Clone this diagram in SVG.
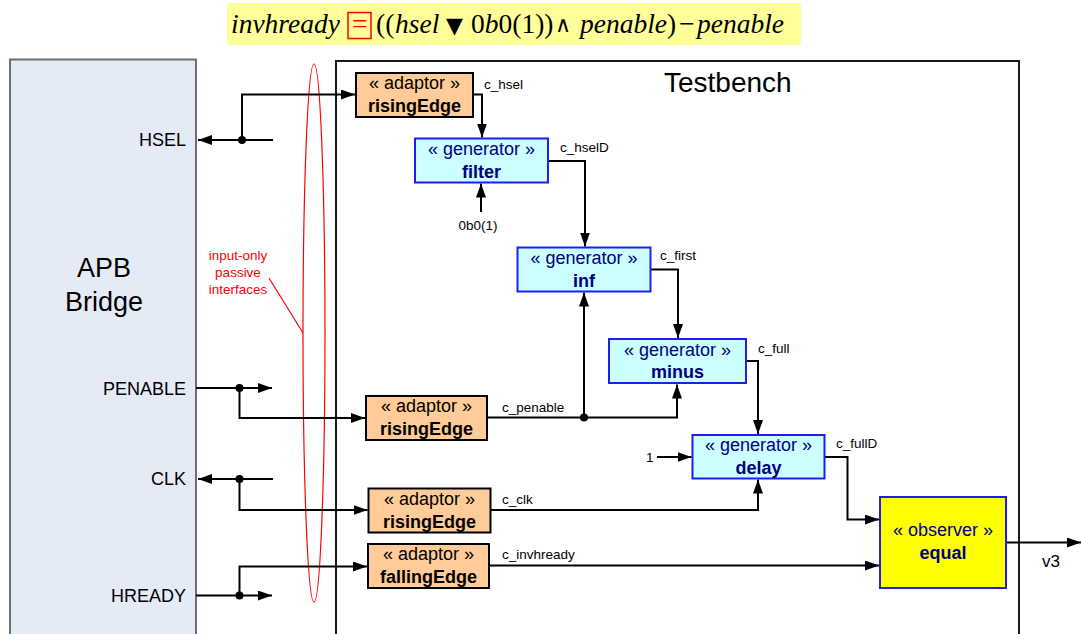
<svg xmlns="http://www.w3.org/2000/svg" width="1081" height="634" viewBox="0 0 1081 634">
<defs>
<style>
.sans{font-family:"Liberation Sans",Arial,sans-serif}
.sig{font-family:"Liberation Sans",Arial,sans-serif;font-size:18px;fill:#000;text-anchor:end}
.lbl{font-family:"Liberation Sans",Arial,sans-serif;font-size:13.5px;fill:#000}
.ad{fill:#FFCC99;stroke:#000;stroke-width:2}
.gen{fill:#CCFFFF;stroke:#1E1EF0;stroke-width:2}
.obs{fill:#FFFF00;stroke:#1E1EF0;stroke-width:2}
.st{font-family:"Liberation Sans",Arial,sans-serif;font-size:18px;text-anchor:middle}
.nm{font-family:"Liberation Sans",Arial,sans-serif;font-size:18px;font-weight:bold;text-anchor:middle}
.blk{fill:#000}
.nav{fill:#000080}
.wire{fill:none;stroke:#000;stroke-width:2}
.math{font-family:"Liberation Serif","Times New Roman",serif;font-size:27.5px;fill:#000}
.it{font-style:italic}
</style>
<marker id="arr" markerUnits="userSpaceOnUse" markerWidth="14" markerHeight="10" refX="14" refY="5" orient="auto">
<path d="M0,0 L14,5 L0,10 z" fill="#000"/>
</marker>
</defs>
<rect width="1081" height="634" fill="#fff"/>

<g id="formula">
<rect x="227" y="3" width="574" height="42" fill="#FFFF99"/>
<rect x="348" y="12.5" width="23" height="26" fill="none" stroke="#FF0000" stroke-width="1.5"/>
<text class="math" y="33"><tspan x="231" class="it">invhready</tspan><tspan x="352" fill="#FF0000">=</tspan><tspan x="376">((</tspan><tspan x="395" class="it">hsel</tspan><tspan x="446" font-family="DejaVu Sans,sans-serif" font-size="22">▼</tspan><tspan x="471">0</tspan><tspan class="it">b</tspan><tspan>0(1))</tspan><tspan x="555" font-family="DejaVu Serif,serif" font-size="22" y="32">∧</tspan><tspan x="580" y="33" class="it">penable</tspan><tspan>)</tspan><tspan x="679">−</tspan><tspan x="697" class="it">penable</tspan></text>
</g>

<g id="apb-bridge">
<rect x="10" y="59.5" width="186" height="600" fill="#E5EBF6" stroke="#6E6E6E" stroke-width="2"/>
<text class="sans" x="104" y="277" font-size="27" text-anchor="middle">APB</text>
<text class="sans" x="104" y="311" font-size="27" text-anchor="middle">Bridge</text>
<text class="sig" x="186" y="146">HSEL</text>
<text class="sig" x="186" y="395">PENABLE</text>
<text class="sig" x="186" y="485">CLK</text>
<text class="sig" x="186" y="602">HREADY</text>
</g>

<g id="testbench">
<path d="M336,640 V61 H1019 V640" fill="none" stroke="#1A1A1A" stroke-width="2"/>
<text class="sans" x="664" y="92" font-size="28">Testbench</text>
</g>

<g id="passive-note">
<ellipse cx="314" cy="333" rx="11" ry="269" fill="none" stroke="#FF0000" stroke-width="1.2"/>
<line x1="269" y1="278" x2="303" y2="333" stroke="#FF0000" stroke-width="1.2"/>
<g class="sans" font-size="13.5" fill="#FF0000" text-anchor="middle">
<text x="238" y="260">input-only</text>
<text x="238" y="277">passive</text>
<text x="238" y="294">interfaces</text>
</g>
</g>

<g id="connectors">
<path class="wire" d="M273,140 H198" marker-end="url(#arr)"/>
<path class="wire" d="M242,140 V94.5 H355" marker-end="url(#arr)"/>
<path class="wire" d="M473,94.5 H482 V137.5" marker-end="url(#arr)"/>
<path class="wire" d="M481,212 V183.5" marker-end="url(#arr)"/>
<path class="wire" d="M548,161 H585 V246.5" marker-end="url(#arr)"/>
<path class="wire" d="M651,269.5 H678 V338" marker-end="url(#arr)"/>
<path class="wire" d="M746,361 H758 V434" marker-end="url(#arr)"/>
<path class="wire" d="M487,417.5 H677 V384.5" marker-end="url(#arr)"/>
<path class="wire" d="M584,417.5 V292.5" marker-end="url(#arr)"/>
<path class="wire" d="M196,388 H272" marker-end="url(#arr)"/>
<path class="wire" d="M239.5,388 V418 H365" marker-end="url(#arr)"/>
<path class="wire" d="M273,479 H198" marker-end="url(#arr)"/>
<path class="wire" d="M239.5,479 V510 H367.5" marker-end="url(#arr)"/>
<path class="wire" d="M491,510 H758 V479.5" marker-end="url(#arr)"/>
<path class="wire" d="M196,595.5 H272" marker-end="url(#arr)"/>
<path class="wire" d="M239.5,595.5 V566.5 H367" marker-end="url(#arr)"/>
<path class="wire" d="M489,565.5 H879" marker-end="url(#arr)"/>
<path class="wire" d="M657,457 H691.5" marker-end="url(#arr)"/>
<path class="wire" d="M824.5,457 H847.5 V519.5 H879" marker-end="url(#arr)"/>
<path class="wire" d="M1006,542.5 H1081" marker-end="url(#arr)"/>
<circle class="blk" cx="242" cy="140" r="4"/>
<circle class="blk" cx="239.5" cy="388" r="4"/>
<circle class="blk" cx="239.5" cy="479" r="4"/>
<circle class="blk" cx="239.5" cy="595.5" r="4"/>
<circle class="blk" cx="584" cy="417.5" r="4"/>
<text class="lbl" x="484" y="89">c_hsel</text>
<text class="lbl" x="560" y="152">c_hselD</text>
<text class="lbl" x="478" y="230" text-anchor="middle">0b0(1)</text>
<text class="lbl" x="660" y="260">c_first</text>
<text class="lbl" x="758" y="353">c_full</text>
<text class="lbl" x="502" y="411.5">c_penable</text>
<text class="lbl" x="646" y="462">1</text>
<text class="lbl" x="836" y="448">c_fullD</text>
<text class="lbl" x="502" y="504">c_clk</text>
<text class="lbl" x="502" y="558.5">c_invhready</text>
<text class="sans" x="1042" y="567" font-size="17">v3</text>
</g>

<g id="adaptor-hsel">
<rect class="ad" x="356" y="73" width="117" height="44"/>
<text class="st blk" x="414.5" y="89">« adaptor »</text>
<text class="nm blk" x="414.5" y="112">risingEdge</text>
</g>
<g id="gen-filter">
<rect class="gen" x="415" y="138.5" width="133" height="44"/>
<text class="st nav" x="481.5" y="155">« generator »</text>
<text class="nm nav" x="481.5" y="178">filter</text>
</g>
<g id="gen-inf">
<rect class="gen" x="517.5" y="247.5" width="133" height="44"/>
<text class="st nav" x="584" y="264">« generator »</text>
<text class="nm nav" x="584" y="287">inf</text>
</g>
<g id="gen-minus">
<rect class="gen" x="609" y="339" width="137" height="44"/>
<text class="st nav" x="677.5" y="355.5">« generator »</text>
<text class="nm nav" x="677.5" y="378">minus</text>
</g>
<g id="adaptor-penable">
<rect class="ad" x="366" y="396" width="121" height="44"/>
<text class="st blk" x="426.5" y="412">« adaptor »</text>
<text class="nm blk" x="426.5" y="435">risingEdge</text>
</g>
<g id="gen-delay">
<rect class="gen" x="692.5" y="435" width="132" height="43.5"/>
<text class="st nav" x="758.5" y="451">« generator »</text>
<text class="nm nav" x="758.5" y="474">delay</text>
</g>
<g id="adaptor-clk">
<rect class="ad" x="368.5" y="488.5" width="122" height="44"/>
<text class="st blk" x="429.5" y="505">« adaptor »</text>
<text class="nm blk" x="429.5" y="527.5">risingEdge</text>
</g>
<g id="adaptor-hready">
<rect class="ad" x="368" y="544" width="121" height="44"/>
<text class="st blk" x="428.5" y="560">« adaptor »</text>
<text class="nm blk" x="428.5" y="582.5">fallingEdge</text>
</g>
<g id="observer-equal">
<rect class="obs" x="880" y="497" width="126" height="91"/>
<text class="st nav" x="943" y="536">« observer »</text>
<text class="nm nav" x="943" y="559">equal</text>
</g>
</svg>
